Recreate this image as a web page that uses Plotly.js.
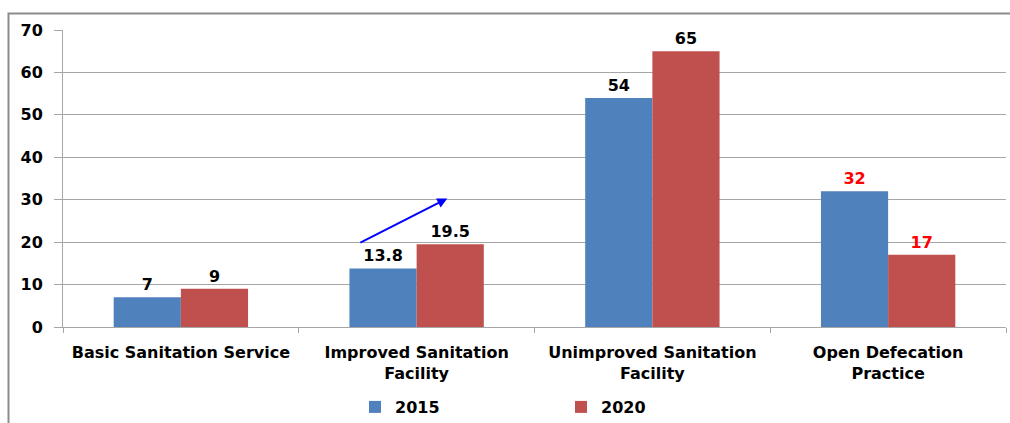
<!DOCTYPE html>
<html>
<head>
<meta charset="utf-8">
<script src="https://cdn.plot.ly/plotly-3.0.1.min.js"></script>
<style>
  html, body { margin: 0; padding: 0; background: #fff; }
  #chart { width: 1010px; height: 423px; }
</style>
</head>
<body>
<div id="chart"></div>
<script>
// Sanitation indicators, 2015 vs 2020 (%)
const categories = [
  'Basic Sanitation Service',
  'Improved Sanitation<br>Facility',
  'Unimproved Sanitation<br>Facility',
  'Open Defecation<br>Practice'
];
const values2015 = [7, 13.8, 54, 32];
const values2020 = [9, 19.5, 65, 17];
const labelColors2015 = ['#000000', '#000000', '#000000', '#FF0000'];
const labelColors2020 = ['#000000', '#000000', '#000000', '#FF0000'];
const seriesNames = ['2015', '2020'];
const yTicks = [0, 10, 20, 30, 40, 50, 60, 70];

const FONT = 'DejaVu Sans, Verdana, sans-serif';
const BLUE = '#4F81BD';
const RED = '#C0504D';
const GRID = '#A6A6A6';

const traces = [
  {
    type: 'bar', name: seriesNames[0], x: categories, y: values2015,
    marker: { color: BLUE },
    text: values2015.map(String), textposition: 'outside', cliponaxis: false,
    textfont: { family: FONT, size: 16, color: labelColors2015, weight: 'bold' }
  },
  {
    type: 'bar', name: seriesNames[1], x: categories, y: values2020,
    marker: { color: RED },
    text: values2020.map(String), textposition: 'outside', cliponaxis: false,
    textfont: { family: FONT, size: 16, color: labelColors2020, weight: 'bold' }
  }
];

// plot-area geometry in pixels, used to place the frame and legend
const W = 1010, H = 423;
const M = { l: 63, r: 4, t: 30, b: 96, autoexpand: false };
const pw = W - M.l - M.r, ph = H - M.t - M.b;
const px = v => (v - M.l) / pw;
const py = v => (H - M.b - v) / ph;

const layout = {
  width: W, height: H,
  margin: M,
  paper_bgcolor: '#ffffff', plot_bgcolor: '#ffffff',
  font: { family: FONT, size: 16, color: '#000000', weight: 'bold' },
  barmode: 'group', bargap: 0.43, bargroupgap: 0,
  showlegend: true,
  legend: {
    orientation: 'h', x: px(355), xanchor: 'left', y: py(407), yanchor: 'middle',
    entrywidth: 161, entrywidthmode: 'pixels',
    font: { family: FONT, size: 16, color: '#000000', weight: 'bold' },
    itemwidth: 30, bgcolor: 'rgba(0,0,0,0)'
  },
  xaxis: {
    type: 'category', showgrid: false, showline: true, linecolor: GRID, linewidth: 1,
    ticks: 'outside', tickson: 'boundaries', ticklen: 5, tickcolor: GRID,
    tickfont: { family: FONT, size: 16, color: '#000000', weight: 'bold' },
    ticklabelstandoff: 11
  },
  yaxis: {
    range: [0, 70], tickvals: yTicks, ticktext: yTicks.map(String),
    showgrid: true, gridcolor: GRID, gridwidth: 1,
    showline: true, linecolor: GRID, linewidth: 1,
    ticks: 'outside', ticklen: 8, tickcolor: GRID,
    tickfont: { family: FONT, size: 16, color: '#000000', weight: 'bold' },
    ticklabelstandoff: 8, zeroline: false
  },
  shapes: [
    {
      type: 'rect', xref: 'paper', yref: 'paper',
      x0: px(8.5), x1: px(1030), y0: py(460), y1: py(13.5),
      line: { color: '#8C8C8C', width: 2 }, fillcolor: 'rgba(0,0,0,0)', layer: 'below'
    }
  ],
  annotations: [
    {
      xref: 'x', yref: 'y', axref: 'x', ayref: 'y',
      x: 1.13, y: 30.3, ax: 0.755, ay: 19.7,
      text: '', showarrow: true, arrowhead: 2, arrowsize: 1, arrowwidth: 2,
      arrowcolor: '#0000FF'
    }
  ]
};

Plotly.newPlot('chart', traces, layout, { displayModeBar: false, staticPlot: true });
</script>
</body>
</html>
